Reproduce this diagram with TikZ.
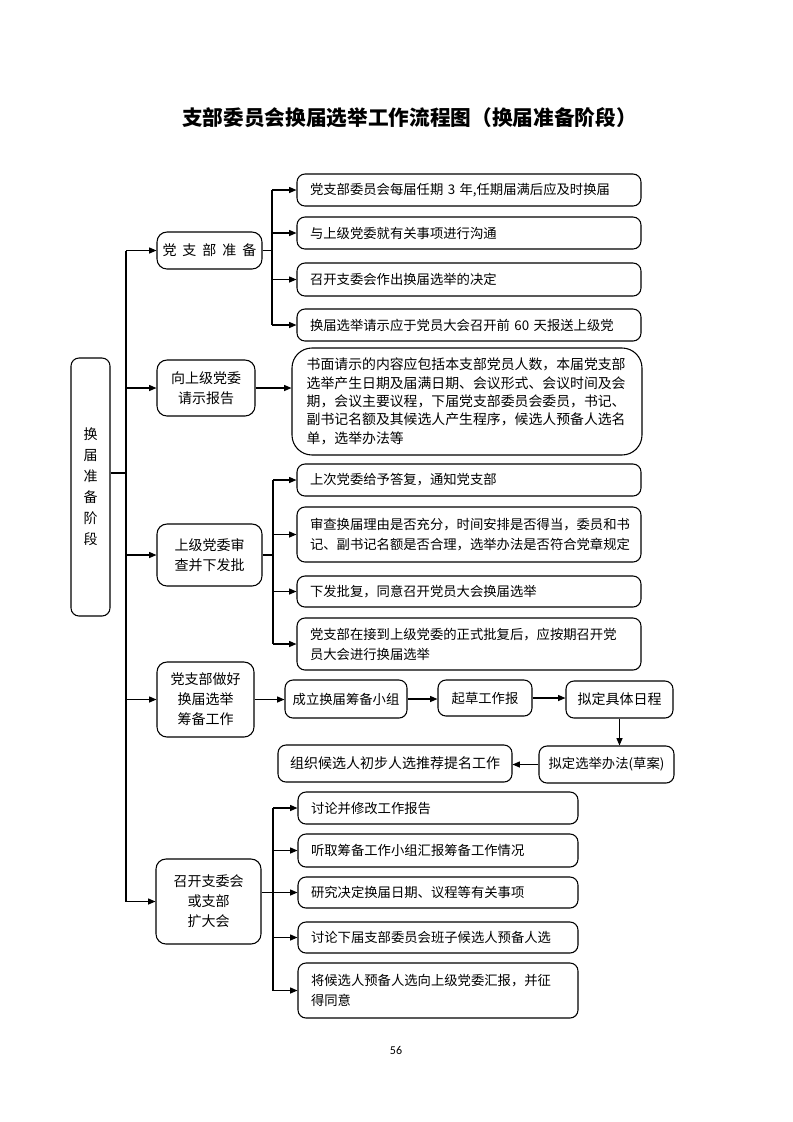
\documentclass[tikz,border=0pt]{standalone}
\usepackage{fontspec}
\setmainfont{Noto Sans CJK SC}
\newfontfamily\numfont{Carlito}
\usetikzlibrary{arrows.meta}
\begin{document}
\begin{tikzpicture}[x=0.75pt,y=-0.75pt,
  line width=0.8pt,
  bx/.style={draw, line width=0.8pt, rounded corners=6pt, inner sep=0pt, align=center,
    font=\fontsize{10.5}{15}\selectfont},
  lvone/.style={bx, rounded corners=7.5pt},
  item/.style={bx, align=left, inner xsep=9.75pt, text width=238.5pt, minimum width=258pt,
    font=\fontsize{10}{15}\selectfont},
  eitem/.style={item, text width=190.5pt, minimum width=210pt},
  chain/.style={bx, font=\fontsize{10}{14}\selectfont},
  arr/.style={-{Triangle[length=5.5pt,width=4.5pt]}},
  ln/.style={line width=0.8pt}
]
\useasboundingbox (0,0) rectangle (793,1122);

% title
\node (title) at (409.5,118) {\bfseries\fontsize{15.5}{18}\selectfont 支部委员会换届选举工作流程图（换届准备阶段）};

% left phase box
\node[bx, minimum width=29.25pt, minimum height=193.5pt, font=\fontsize{10.5}{15.75}\selectfont] (L) at (90.5,487) {换\\届\\准\\备\\阶\\段};

% level one
\node[lvone, minimum width=78.75pt, minimum height=27.75pt] (A1) at (209.5,250.5) {党\hspace{4.5pt}支\hspace{4.5pt}部\hspace{4.5pt}准\hspace{4.5pt}备};
\node[lvone, minimum width=73.5pt, minimum height=42pt] (A2) at (206,388) {向上级党委\\请示报告};
\node[lvone, minimum width=78.75pt, minimum height=46.5pt] (A3) at (209.5,555) {上级党委审\\查并下发批};
\node[lvone, minimum width=72.75pt, minimum height=56.25pt] (A4) at (205.5,699.5) {党支部做好\\换届选举\\筹备工作};
\node[lvone, minimum width=78.75pt, minimum height=63.75pt] (A5) at (208.5,901.5) {召开支委会\\或支部\\扩大会};

% group 1
\node[item, minimum height=24pt] (b1) at (469,190) {党支部委员会每届任期 3 年,任期届满后应及时换届};
\node[item, minimum height=24pt] (b2) at (469,233) {与上级党委就有关事项进行沟通};
\node[item, minimum height=24.75pt] (b3) at (469,279.5) {召开支委会作出换届选举的决定};
\node[item, minimum height=24pt] (b4) at (469,325) {换届选举请示应于党员大会召开前 60 天报送上级党};

% group 2
\node[bx, align=left, rounded corners=15pt, inner xsep=11pt, text width=240.5pt, minimum width=262.5pt,
  minimum height=80.25pt, font=\fontsize{10.4}{13.75}\selectfont] (B) at (467,401.5)
  {书面请示的内容应包括本支部党员人数，本届党支部\\选举产生日期及届满日期、会议形式、会议时间及会\\期，会议主要议程，下届党支部委员会委员，书记、\\副书记名额及其候选人产生程序，候选人预备人选名\\单，选举办法等};

% group 3
\node[item, minimum height=24pt] (c1) at (469,480) {上次党委给予答复，通知党支部};
\node[item, minimum height=41.25pt] (c2) at (469,534.5) {审查换届理由是否充分，时间安排是否得当，委员和书\\记、副书记名额是否合理，选举办法是否符合党章规定};
\node[item, minimum height=23.25pt] (c3) at (469,591.5) {下发批复，同意召开党员大会换届选举};
\node[item, minimum height=39pt] (c4) at (469,644) {党支部在接到上级党委的正式批复后，应按期召开党\\员大会进行换届选举};

% group 4
\node[chain, minimum width=91.5pt, minimum height=28.5pt] (d1) at (346,699) {成立换届筹备小组};
\node[chain, minimum width=70.5pt, minimum height=27pt] (d2) at (485,698) {起草工作报};
\node[chain, minimum width=80.25pt, minimum height=27.75pt, font=\fontsize{10.5}{14}\selectfont] (d3) at (619.5,699.5) {拟定具体日程};
\node[chain, minimum width=101.25pt, minimum height=27.75pt] (d4) at (606.5,764.5) {拟定选举办法(草案)};
\node[chain, minimum width=175.5pt, minimum height=27.75pt, font=\fontsize{10.5}{14}\selectfont] (d5) at (395,763.5) {组织候选人初步人选推荐提名工作};

% group 5
\node[eitem, minimum height=24pt] (e1) at (438,808) {讨论并修改工作报告};
\node[eitem, minimum height=24.75pt] (e2) at (438,850.5) {听取筹备工作小组汇报筹备工作情况};
\node[eitem, minimum height=23.25pt] (e3) at (438,892.5) {研究决定换届日期、议程等有关事项};
\node[eitem, minimum height=23.25pt] (e4) at (438,937.5) {讨论下届支部委员会班子候选人预备人选};
\node[eitem, minimum height=41.25pt] (e5) at (438,990.5) {将候选人预备人选向上级党委汇报，并征\\得同意};

% page number
\node (pg) at (396,1050) {\numfont\fontsize{9}{11}\selectfont 56};

% trunk
\coordinate (lj) at (126,473);
\coordinate (T) at (126,250);
\draw[ln] (L.east |- lj) -- (lj);
\draw[ln] (T |- A1) -- (T |- A5);
\foreach \n in {A1,A2,A3,A4,A5} \draw[ln,arr] (T |- \n) -- (\n.west);

% group 1 bracket
\coordinate (k1) at (272,250);
\draw[ln] (A1.east) -- (k1 |- A1.east);
\draw[ln] (k1 |- b1) -- (k1 |- b4);
\foreach \n in {b1,b2,b3,b4} \draw[ln,arr] (k1 |- \n) -- (\n.west);

% group 2
\draw[ln,arr] (A2.east) -- (A2.east -| B.west);

% group 3 bracket
\coordinate (k3) at (273,555);
\draw[ln] (A3.east) -- (k3 |- A3.east);
\draw[ln] (k3 |- c1) -- (k3 |- c4);
\foreach \n in {c1,c2,c3,c4} \draw[ln,arr] (k3 |- \n) -- (\n.west);

% group 4 chain
\draw[ln,arr] (A4.east) -- (A4.east -| d1.west);
\draw[ln,arr] (d1.east) -- (d1.east -| d2.west);
\draw[ln,arr] (d2.east) -- (d2.east -| d3.west);
\draw[ln,arr] (d3.south) -- (d3.south |- d4.north);
\draw[ln,arr] (d4.west) -- (d4.west -| d5.east);

% group 5 bracket
\coordinate (k5) at (273,900);
\draw[ln] (k5 |- e1) -- (k5 |- e5);
\draw[ln,arr] (A5.east |- e3) -- (e3.west);
\foreach \n in {e1,e2,e4,e5} \draw[ln,arr] (k5 |- \n) -- (\n.west);
\end{tikzpicture}
\end{document}
